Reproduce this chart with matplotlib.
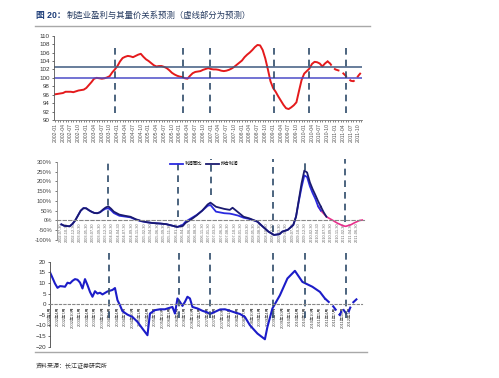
import numpy as np
import matplotlib.pyplot as plt
from matplotlib.lines import Line2D

plt.rcParams['font.family'] = ['Liberation Sans', 'Noto Sans CJK SC']

# ---- chart 1: price index (monthly from 2002-01), dashed part is forecast
red_values = [
    96.1, 96.2, 96.3, 96.4, 96.7, 96.7, 96.7, 96.6, 96.8, 97.0, 97.1, 97.2,
    97.6, 98.3, 99.0, 99.8, 100.0, 99.9, 99.8, 99.9, 100.1, 100.4, 101.3, 102.0,
    102.8, 103.9, 104.7, 105.0, 105.2, 105.1, 104.9, 105.2, 105.5, 105.7, 105.0, 104.4,
    104.0, 103.5, 103.0, 102.7, 102.8, 102.8, 102.6, 102.3, 101.8, 101.2, 100.8, 100.5,
    100.3, 100.2, 99.9, 99.8, 100.5, 101.1, 101.4, 101.5, 101.6, 101.9, 102.1, 102.3,
    102.1, 102.0, 102.0, 101.9, 101.7, 101.6, 101.7, 101.9, 102.2, 102.6, 103.1, 103.6,
    104.1, 104.9, 105.5, 106.0, 106.6, 107.3, 107.8, 107.7, 106.6, 104.6, 102.0, 99.2,
    97.6, 96.7, 95.6, 94.6, 93.6, 92.8, 92.6, 93.0, 93.5, 94.2, 96.9, 99.5,
    101.0, 101.6, 102.2, 103.3, 103.8, 103.7, 103.4, 102.7, 103.4, 103.9, 103.4, 102.5,
    102.0, 101.8, 101.6, 101.1, 100.5, 99.8, 99.3, 99.2, 99.7, 100.6, 101.3,
]
forecast_start1 = 105
ref_levels1 = [102.5, 100]
cycle_months1 = [23.0, 49.4, 59.8, 84.3, 97.8, 112.3]
quarter_labels1 = [f"{2002 + i // 4}-{(i % 4) * 3 + 1:02d}" for i in range(40)]

# ---- chart 2: growth (%), months since 2002-01
months2 = [7, 8, 10, 11, 12, 13, 14, 15, 16, 17, 18, 19, 20, 21, 22, 23, 24, 25, 26, 28,
           30, 32, 34, 36, 38, 40, 43, 45, 47, 49, 51, 52, 54, 56, 58, 60, 61, 63, 66, 68,
           69, 71, 73, 75, 78, 80, 82, 84, 86, 87, 89, 91, 92, 93, 94, 95, 96, 97, 98, 99,
           100, 101]
blue2 = [-20, -27, -30, -18, 0, 25, 50, 63, 62, 52, 44, 38, 37, 42, 52, 60, 62, 52, 38, 24,
         20, 16, 4, -4, -9, -13, -16, -19, -26, -33, -22, -6, 11, 28, 50, 75, 79, 45, 37, 35,
         32, 25, 14, 8, -6, -32, -57, -74, -70, -57, -48, -23, 20, 98, 170, 230, 222, 175, 140, 110,
         72, 50]
navy2 = [-20, -27, -30, -18, 0, 25, 50, 63, 62, 52, 44, 38, 37, 42, 55, 66, 72, 60, 45, 30,
         24, 19, 6, -3, -9, -13, -16, -19, -26, -33, -28, -12, 5, 26, 50, 82, 91, 70, 59, 54,
         65, 42, 19, 11, -6, -32, -57, -74, -70, -57, -48, -23, 20, 105, 190, 255, 245, 195, 160, 130,
         98, 70]
navy2_tail_months = [101, 102, 103]
navy2_tail = [70, 42, 19]
fc_months2 = [100, 101, 102, 103, 105, 107, 109, 110, 112, 113, 115, 116]
fc2 = [72, 50, 35, 19, 3, -14, -27, -30, -21, -13, 0, 2]
legend2 = ["利润同比", "拟合利润"]
cycle_months2 = [24, 49.1, 61.2, 83.8, 95.3, 109.8]
cycle_bottoms2 = [0.294, 0.294, 0.575, 0.102, 0.894, 0.23]

# ---- chart 3
months3 = [0, 1, 2, 3, 4, 5, 6, 7, 8, 9, 10, 11, 12, 13, 14, 15, 16, 17, 18, 19,
           20, 21, 23, 25, 26, 27, 28, 29, 31, 33, 35, 37, 39, 40, 42, 44, 46, 47, 49, 50,
           51, 52, 53, 54, 55, 56, 57, 59, 61, 63, 64, 66, 68, 70, 72, 74, 76, 78, 80, 83,
           86, 87, 89, 92, 95, 98, 101, 105, 108, 110]
values3 = [15.0, 12.4, 9.7, 7.7, 8.5, 8.4, 8.2, 10.1, 9.8, 11.0, 11.8, 11.5, 10.2, 7.4, 11.8, 9.0, 5.8, 3.5, 6.1, 5.0,
           5.4, 4.6, 6.0, 6.7, 7.6, 1.9, -0.5, -3.3, -4.9, -6.0, -8.3, -11.5, -14.6, -4.4, -2.8, -2.4, -2.4, -2.0, -1.3, -4.4,
           2.7, 1.1, -0.8, 1.1, 3.5, 2.7, -1.3, -2.0, -3.1, -3.9, -4.6, -3.6, -2.5, -2.4, -3.1, -3.9, -4.6, -6.0, -9.9, -13.8,
           -16.5, -10.7, -2.0, 4.2, 12.1, 15.7, 10.5, 8.2, 5.8, 2.7]
fc_months3 = [110, 113, 116, 117, 119, 120, 121, 123]
fc3 = [2.7, -0.5, -5.2, -1.9, -5.2, -2.0, 0.5, 2.7]
cycle_months3 = [23.7, 51.5, 64, 89.3, 102.1, 118.4]

fig = plt.figure(figsize=(4.99, 3.78), dpi=100)
dash_col = '#2e4a6a'

# title
fig.text(0.072, 0.960, "图 20：", color='#1f3f7a', fontsize=6.3, fontweight='bold', va='center')
fig.text(0.134, 0.960, "制造业盈利与其量价关系预测（虚线部分为预测）", color='#24395f', fontsize=6.0, va='center')
fig.add_artist(Line2D([0.070, 0.741], [0.931, 0.931], color='#a8a8a8', lw=1.0))

# chart 1
ax1 = fig.add_axes([0.108, 0.6825, 0.617, 0.2231])
m1 = np.arange(len(red_values))
ax1.plot(m1[:forecast_start1 + 1], red_values[:forecast_start1 + 1], color='#e41a1c', lw=1.4)
ax1.plot(m1[forecast_start1:], red_values[forecast_start1:], color='#e41a1c', lw=1.4, ls=(0, (3, 2)))
ax1.axhline(ref_levels1[0], color='#3e5a80', lw=1.1)
ax1.axhline(ref_levels1[1], color='#4b4bc8', lw=1.1)
for x in cycle_months1:
    ax1.plot([x, x], [91.6, 108.3], color=dash_col, lw=1.2, ls=(0, (4, 3)))
ax1.set_xlim(-0.5, 118.2)
ax1.set_ylim(90, 110)
ax1.set_yticks(range(90, 111, 2))
ax1.set_xticks(np.arange(0, 120, 3))
ax1.set_xticklabels(quarter_labels1)
ax1.set_xticks(np.arange(0, 119), minor=True)
ax1.tick_params(axis='y', labelsize=4.5, length=1.5, width=0.5, pad=1.5, colors='#333333')
ax1.tick_params(axis='x', which='both', labelsize=3.7, length=1.5, width=0.5, pad=1,
                colors='#555555', labelrotation=90)
for s in ['top', 'right']:
    ax1.spines[s].set_visible(False)
ax1.spines['left'].set_color('#555555')
ax1.spines['bottom'].set_color('#777777')
ax1.spines['left'].set_linewidth(0.6)
ax1.spines['bottom'].set_linewidth(0.6)

# chart 2
ax2 = fig.add_axes([0.1142, 0.365, 0.6152, 0.2071])
for s in ['top', 'right']:
    ax2.spines[s].set_visible(False)
ax2.spines['bottom'].set_position(('data', 0))
ax2.spines['bottom'].set_color('#888888')
ax2.spines['bottom'].set_linestyle((0, (3, 2)))
ax2.spines['left'].set_color('#888888')
ax2.spines['left'].set_linewidth(0.6)
ax2.plot(fc_months2, fc2, color='#e8308c', lw=1.2)
ax2.plot(months2, blue2, color='#2a2ae0', lw=1.3)
ax2.plot(months2, navy2, color='#1a1a70', lw=1.3)
ax2.plot(navy2_tail_months, navy2_tail, color='#1a1a70', lw=1.3)
for x, b in zip(cycle_months2, cycle_bottoms2):
    ax2.axvline(x, ymin=b, ymax=1.034, color=dash_col, lw=1.2, ls=(0, (4, 3)), clip_on=False)
ax2.set_xlim(5.41, 116.6)
ax2.set_ylim(-100, 300)
ax2.set_yticks(range(-100, 301, 50))
ax2.set_yticklabels([f"{v}%" for v in range(-100, 301, 50)])
ticks2 = np.arange(6.8, 116, 2.33)
ax2.set_xticks(ticks2)
ax2.set_xticklabels([f"{2002 + int(t) // 12}-{int(t) % 12 + 1:02d}-30" for t in ticks2])
ax2.tick_params(axis='y', labelsize=4.2, length=1.5, width=0.5, pad=2, colors='#444444')
ax2.tick_params(axis='x', labelsize=2.8, length=0, pad=1.5, colors='#666666', labelrotation=90)
handles = [Line2D([], [], color='#2a2ae0', lw=1.3), Line2D([], [], color='#1a1a70', lw=1.3)]
ax2.legend(handles, legend2, loc='center left', bbox_to_anchor=(0.355, 0.97), ncol=2,
           frameon=False, fontsize=3.2, handlelength=3, handletextpad=0.3, columnspacing=0.8)

# chart 3
ax3 = fig.add_axes([0.1002, 0.0828, 0.625, 0.2249])
for s in ['top', 'right']:
    ax3.spines[s].set_visible(False)
ax3.spines['bottom'].set_position(('data', 0))
ax3.spines['bottom'].set_color('#888888')
ax3.spines['bottom'].set_linestyle((0, (2, 2)))
ax3.spines['left'].set_color('#444444')
ax3.spines['left'].set_linewidth(0.6)
ax3.plot(months3, values3, color='#1c1cc8', lw=1.5)
ax3.plot(fc_months3, fc3, color='#1c1cc8', lw=1.5, ls=(0, (3, 2)))
for x in cycle_months3:
    ax3.axvline(x, ymin=0.34, ymax=1.138, color=dash_col, lw=1.2, ls=(0, (4, 3)), clip_on=False)
ax3.set_xlim(0, 124.8)
ax3.set_ylim(-20, 20)
ax3.set_yticks(range(-20, 21, 5))
ticks3 = np.arange(0, 121, 3)
ax3.set_xticks(ticks3)
ax3.set_xticklabels([f"{2002 + t // 12}年{t % 12 + 1}月" for t in ticks3])
ax3.tick_params(axis='y', labelsize=4.5, length=1.5, width=0.5, pad=1.5, colors='#333333')
ax3.tick_params(axis='x', labelsize=3.0, length=0, pad=1.5, colors='#444444', labelrotation=90)

fig.add_artist(Line2D([0.070, 0.736], [0.0696, 0.0696], color='#a8a8a8', lw=1.0))
fig.text(0.072, 0.032, "资料来源：长江证券研究所", color='#333333', fontsize=4.3, va='center')

fig.savefig('out.png', dpi=100)
